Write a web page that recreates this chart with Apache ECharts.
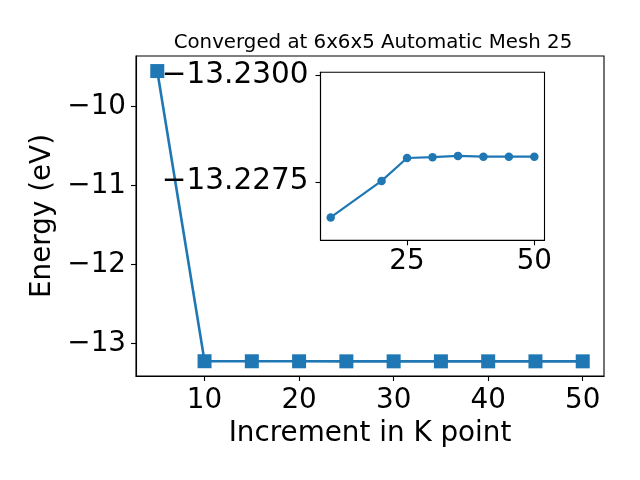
<!DOCTYPE html>
<html>
<head>
<meta charset="utf-8">
<script src="https://cdn.jsdelivr.net/npm/echarts@6/dist/echarts.min.js"></script>
<style>html,body{margin:0;padding:0;background:#fff}#c{width:640px;height:480px}</style>
</head>
<body>
<div id="c"></div>
<script>
// Main plot data
const kPoints = [5, 10, 15, 20, 25, 30, 35, 40, 45, 50];
const energies = [-9.548, -13.22666, -13.2272, -13.22752, -13.22806, -13.22808, -13.22811, -13.22809, -13.22809, -13.22809];
// Inset data
const insetK = [10, 20, 25, 30, 35, 40, 45, 50];
const insetE = [-13.22666, -13.22752, -13.22806, -13.22808, -13.22811, -13.22809, -13.22809, -13.22809];
// Tick values
const mainXTicks = [10, 20, 30, 40, 50];
const mainYTicks = [-13, -12, -11, -10];
const insetXTicks = [25, 50];
const insetYTicks = [-13.23, -13.2275];
const titleText = 'Converged at 6x6x5 Automatic Mesh 25';

const FONT = 'DejaVu Sans';
const BLUE = '#1f77b4';
const minus = s => String(s).replace('-', '\u2212');

const chart = echarts.init(document.getElementById('c'), null, {renderer: 'canvas'});
chart.setOption({
  animation: false,
  backgroundColor: '#fff',
  textStyle: {fontFamily: FONT},
  title: {
    text: titleText, left: 368, top: 28, textAlign: 'center',
    textStyle: {fontFamily: FONT, fontSize: 19.8, fontWeight: 'normal', color: '#000'}
  },
  grid: [
    {left: 136, top: 56, width: 468, height: 320, show: true, borderColor: '#000', borderWidth: 1.1, backgroundColor: 'transparent', z: 0},
    {left: 320.5, top: 72.3, width: 224, height: 168, show: true, borderColor: '#000', borderWidth: 1.1, backgroundColor: '#fff', z: 3}
  ],
  xAxis: [
    {
      type: 'value', gridIndex: 0, min: 2.75, max: 52.25,
      name: 'Increment in K point', nameLocation: 'middle', nameGap: 41,
      nameTextStyle: {fontFamily: FONT, fontSize: 27.8, color: '#000'},
      axisLine: {show: true, onZero: false, lineStyle: {color: '#000', width: 1.1}},
      axisTick: {show: true, inside: false, length: 5, lineStyle: {color: '#000', width: 1.1}, customValues: mainXTicks},
      axisLabel: {fontFamily: FONT, fontSize: 27.8, color: '#000', margin: 11, customValues: mainXTicks},
      splitLine: {show: false}
    },
    {
      type: 'value', gridIndex: 1, min: 8, max: 52, z: 6,
      axisLine: {show: true, onZero: false, lineStyle: {color: '#000', width: 1.1}},
      axisTick: {show: true, inside: false, length: 5, lineStyle: {color: '#000', width: 1.1}, customValues: insetXTicks},
      axisLabel: {fontFamily: FONT, fontSize: 27.8, color: '#000', margin: 7, customValues: insetXTicks},
      splitLine: {show: false}
    }
  ],
  yAxis: [
    {
      type: 'value', gridIndex: 0, min: -13.414, max: -9.357,
      name: 'Energy (eV)', nameLocation: 'middle', nameGap: 75,
      nameTextStyle: {fontFamily: FONT, fontSize: 27.8, color: '#000'},
      axisLine: {show: true, onZero: false, lineStyle: {color: '#000', width: 1.1}},
      axisTick: {show: true, inside: false, length: 5, lineStyle: {color: '#000', width: 1.1}, customValues: mainYTicks},
      axisLabel: {fontFamily: FONT, fontSize: 27.8, color: '#000', margin: 10, customValues: mainYTicks,
        formatter: v => minus(v)},
      splitLine: {show: false}
    },
    {
      type: 'value', gridIndex: 1, min: -13.23008, max: -13.22612, inverse: true, z: 6,
      axisLine: {show: true, onZero: false, lineStyle: {color: '#000', width: 1.1}},
      axisTick: {show: true, inside: false, length: 5, lineStyle: {color: '#000', width: 1.1}, customValues: insetYTicks},
      axisLabel: {fontFamily: FONT, fontSize: 29.5, color: '#000', margin: 12, customValues: insetYTicks,
        formatter: v => minus(v.toFixed(4))},
      splitLine: {show: false}
    }
  ],
  series: [
    {
      type: 'line', xAxisIndex: 0, yAxisIndex: 0, z: 2,
      data: kPoints.map((k, i) => [k, energies[i]]),
      symbol: 'rect', symbolSize: 14, showAllSymbol: true,
      lineStyle: {color: BLUE, width: 2.6},
      itemStyle: {color: BLUE, borderWidth: 0}
    },
    {
      type: 'line', xAxisIndex: 1, yAxisIndex: 1, z: 7,
      data: insetK.map((k, i) => [k, insetE[i]]),
      symbol: 'circle', symbolSize: 8.5, showAllSymbol: true,
      lineStyle: {color: BLUE, width: 2.2},
      itemStyle: {color: BLUE, borderWidth: 0}
    }
  ]
});
</script>
</body>
</html>
